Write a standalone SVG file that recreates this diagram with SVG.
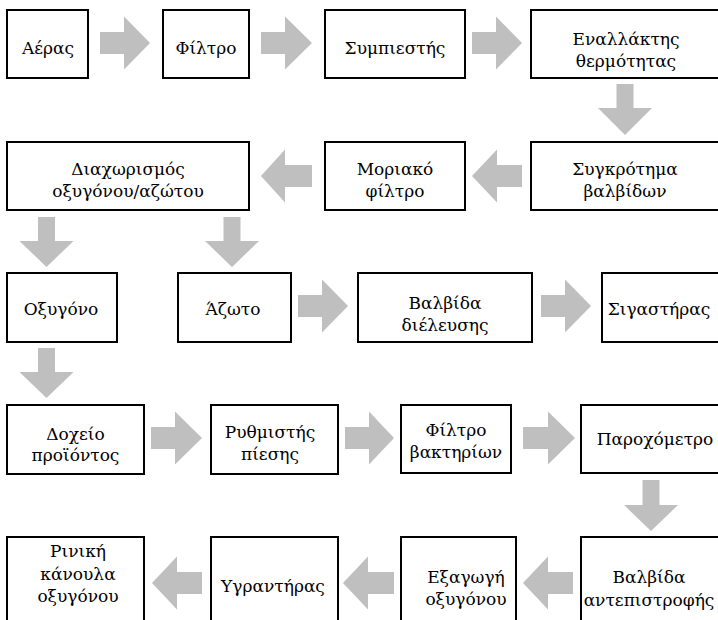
<svg xmlns="http://www.w3.org/2000/svg" width="718" height="620" viewBox="0 0 718 620">
<style>
.box rect{fill:#fff;stroke:#000;stroke-width:2}
text{font-family:"DejaVu Serif",serif;font-size:17px;fill:#000;text-anchor:middle}
.arr polygon{fill:#bfbfbf;stroke:none}
</style>
<rect width="718" height="620" fill="#fff"/>
<g id="connectors" class="arr">
<polygon points="100,32 124,32 124,16.5 150,43 124,69.5 124,54 100,54"/>
<polygon points="261,32 285,32 285,16.5 312,43 285,69.5 285,54 261,54"/>
<polygon points="472,32 496,32 496,16.5 522,43 496,69.5 496,54 472,54"/>
<polygon points="616.5,84 633.5,84 633.5,108 652,108 625,135 598,108 616.5,108"/>
<polygon points="312,165 285,165 285,149.5 261,176 285,202.5 285,187 312,187"/>
<polygon points="522,165 497,165 497,149.5 472,176 497,202.5 497,187 522,187"/>
<polygon points="38,217 55,217 55,241 73.5,241 46.5,267 19.5,241 38,241"/>
<polygon points="223.5,217 240.5,217 240.5,241 259,241 232,267 205,241 223.5,241"/>
<polygon points="298,295 322,295 322,279.5 348,306 322,332.5 322,317 298,317"/>
<polygon points="541,295 565,295 565,279.5 591,306 565,332.5 565,317 541,317"/>
<polygon points="38,348 55,348 55,372 73.5,372 46.5,398 19.5,372 38,372"/>
<polygon points="151,427 175,427 175,411.5 202,438 175,464.5 175,449 151,449"/>
<polygon points="345,427 369,427 369,411.5 394,438 369,464.5 369,449 345,449"/>
<polygon points="523,427 548,427 548,411.5 575,438 548,464.5 548,449 523,449"/>
<polygon points="642.5,480 659.5,480 659.5,505 678,505 651,531 624,505 642.5,505"/>
<polygon points="573,572 548,572 548,556.5 523,583 548,609.5 548,594 573,594"/>
<polygon points="394,572 368,572 368,556.5 343,583 368,609.5 368,594 394,594"/>
<polygon points="202,572 177,572 177,556.5 152,583 177,609.5 177,594 202,594"/>
</g>
<g id="n1" class="box"><rect x="7" y="10" width="81" height="68"/><text x="48" y="54">Αέρας</text></g>
<g id="n2" class="box"><rect x="163" y="10" width="86" height="68"/><text x="206" y="54">Φίλτρο</text></g>
<g id="n3" class="box"><rect x="325" y="10" width="140" height="68"/><text x="395" y="54">Συμπιεστής</text></g>
<g id="n4" class="box"><rect x="531" y="10" width="192" height="68"/><text x="626" y="45">Εναλλάκτης</text><text x="626" y="67">θερμότητας</text></g>
<g id="n5" class="box"><rect x="531" y="142" width="192" height="68"/><text x="625" y="175">Συγκρότημα</text><text x="625" y="197">βαλβίδων</text></g>
<g id="n6" class="box"><rect x="325" y="142" width="140" height="68"/><text x="395" y="175">Μοριακό</text><text x="395" y="197">φίλτρο</text></g>
<g id="n7" class="box"><rect x="7" y="142" width="242" height="68"/><text x="128" y="175">Διαχωρισμός</text><text x="128" y="197">οξυγόνου/αζώτου</text></g>
<g id="n8" class="box"><rect x="7" y="273" width="110" height="69"/><text x="61" y="315">Οξυγόνο</text></g>
<g id="n9" class="box"><rect x="178" y="273" width="113" height="69"/><text x="233" y="315">Άζωτο</text></g>
<g id="n10" class="box"><rect x="358" y="273" width="174" height="69"/><text x="445" y="309">Βαλβίδα</text><text x="445" y="331">διέλευσης</text></g>
<g id="n11" class="box"><rect x="602" y="273" width="121" height="69"/><text x="659" y="315">Σιγαστήρας</text></g>
<g id="n12" class="box"><rect x="7" y="405" width="137" height="69"/><text x="75.5" y="440">Δοχείο</text><text x="75.5" y="461">προϊόντος</text></g>
<g id="n13" class="box"><rect x="211" y="405" width="127" height="69"/><text x="270" y="438">Ρυθμιστής</text><text x="270" y="460">πίεσης</text></g>
<g id="n14" class="box"><rect x="401" y="405" width="110" height="68"/><text x="456" y="436">Φίλτρο</text><text x="456" y="458">βακτηρίων</text></g>
<g id="n15" class="box"><rect x="581" y="405" width="142" height="68"/><text x="655" y="445">Παροχόμετρο</text></g>
<g id="n16" class="box"><rect x="581" y="537" width="142" height="100"/><text x="649" y="583">Βαλβίδα</text><text x="649" y="606">αντεπιστροφής</text></g>
<g id="n17" class="box"><rect x="401" y="537" width="115" height="100"/><text x="466" y="583">Εξαγωγή</text><text x="466" y="605">οξυγόνου</text></g>
<g id="n18" class="box"><rect x="211" y="537" width="127" height="100"/><text x="273" y="592">Υγραντήρας</text></g>
<g id="n19" class="box"><rect x="7" y="537" width="137" height="100"/><text x="78" y="557">Ρινική</text><text x="78" y="580">κάνουλα</text><text x="78" y="602">οξυγόνου</text></g>
</svg>
